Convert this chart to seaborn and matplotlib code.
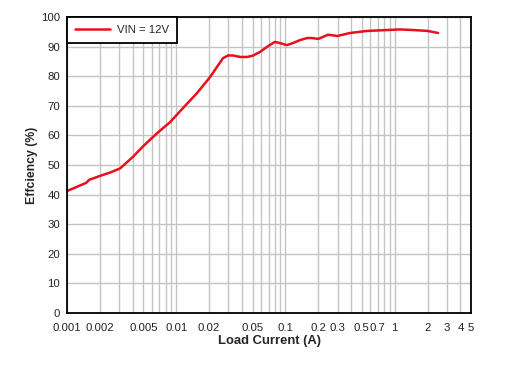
import numpy as np
import pandas as pd
import matplotlib
matplotlib.use('Agg')
import matplotlib.pyplot as plt
import seaborn as sns
from matplotlib.ticker import FixedLocator, NullFormatter

# Efficiency curve (VIN = 12V)
load_current = [0.001, 0.0013, 0.0015, 0.0016, 0.002, 0.0025, 0.00305, 0.004, 0.005,
                0.0067, 0.0088, 0.0115, 0.0155, 0.0204, 0.0268, 0.0298, 0.0331, 0.0385,
                0.0445, 0.05, 0.0585, 0.0677, 0.080, 0.089, 0.103, 0.117, 0.136, 0.158,
                0.175, 0.2, 0.245, 0.30, 0.39, 0.56, 0.85, 1.12, 1.48, 2.0, 2.5]
efficiency = [41.2, 43.0, 44.0, 45.0, 46.3, 47.5, 48.8, 52.7, 56.4,
              60.8, 64.5, 69.2, 74.3, 79.7, 86.1, 87.0, 87.0, 86.5,
              86.5, 86.9, 88.2, 89.9, 91.6, 91.2, 90.5, 91.2, 92.2, 92.9,
              92.9, 92.6, 94.0, 93.6, 94.6, 95.3, 95.6, 95.8, 95.6, 95.3, 94.6]

x_ticks = [0.001, 0.002, 0.005, 0.01, 0.02, 0.05, 0.1, 0.2, 0.3, 0.5, 0.7, 1, 2, 3, 4, 5]
x_tick_labels = ['0.001', '0.002', '0.005', '0.01', '0.02', '0.05', '0.1', '0.2', '0.3',
                 '0.5', '0.7', '1', '2', '3', '4', '5']
y_ticks = list(range(0, 101, 10))

df = pd.DataFrame({'Load Current (A)': load_current, 'Efficiency': efficiency})

sns.set_style('white')
plt.rcParams['font.family'] = ['Liberation Sans', 'DejaVu Sans']

fig = plt.figure(figsize=(5.05, 3.69), dpi=100)
ax = fig.add_axes([0.1327, 0.1518, 0.8, 0.8021])

sns.lineplot(data=df, x='Load Current (A)', y='Efficiency', color='#e8101a',
             linewidth=1.8, label='VIN = 12V', ax=ax)

ax.set_xscale('log')
ax.set_xlim(0.001, 5)
ax.set_ylim(0, 100)

# minor grid at every 1..9 of each decade
minor = [m * 10.0 ** e for e in range(-3, 1) for m in range(1, 10)] + [1, 2, 3, 4, 5]
ax.xaxis.set_major_locator(FixedLocator(x_ticks))
ax.set_xticklabels(x_tick_labels)
ax.xaxis.set_minor_locator(FixedLocator(minor))
ax.xaxis.set_minor_formatter(NullFormatter())
ax.set_yticks(y_ticks)

ax.grid(True, which='both', axis='x', color='#c4c4c4', linewidth=1)
ax.grid(True, which='major', axis='y', color='#c4c4c4', linewidth=1)
ax.set_axisbelow(True)
ax.tick_params(axis='both', which='both', length=0, labelsize=8.2, colors='#222222')
ax.tick_params(axis='x', pad=7)
ax.tick_params(axis='y', pad=5)

for s in ax.spines.values():
    s.set_color('black')
    s.set_linewidth(1.3)

ax.set_xlabel('Load Current (A)', fontsize=9.4, fontweight='bold', labelpad=2)
ax.set_ylabel('Effciency (%)', fontsize=8.8, fontweight='bold', labelpad=2)

leg = ax.legend(loc='upper left', fontsize=8.2, frameon=True, fancybox=False,
                borderaxespad=0, handlelength=3.1, handletextpad=0.6,
                borderpad=0.7, framealpha=1)
leg.get_frame().set_edgecolor('black')
leg.get_frame().set_linewidth(1.3)

fig.savefig('out.png', dpi=100)
